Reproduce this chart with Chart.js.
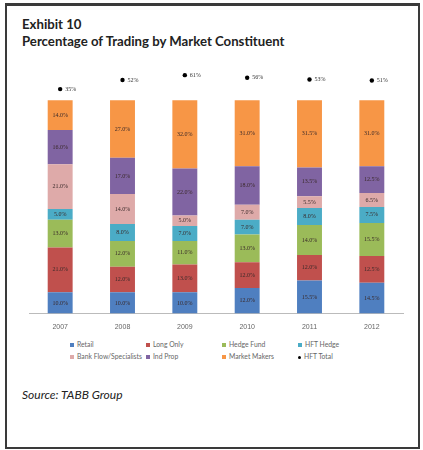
<!DOCTYPE html>
<html>
<head>
<meta charset="utf-8">
<script src="https://cdn.jsdelivr.net/npm/chart.js@4.4.1/dist/chart.umd.min.js"></script>
<style>
  body { margin: 0; background: #fff; font-family: Lato, "Open Sans", sans-serif; }
  #frame { position: absolute; left: 5px; top: 3px; width: 411px; height: 441px;
           border: 2px solid #3a3a3a; border-top-width: 3px; }
  #title { position: absolute; left: 22px; top: 16px; font-weight: bold; font-size: 13.2px;
           line-height: 17px; color: #222; }
  #wrap { position: absolute; left: 0; top: 62px; width: 423px; height: 270px; }
  #legend { position: absolute; left: 0; top: 340px; width: 423px; font-size: 6.8px; color: #666; }
  .item { position: absolute; white-space: nowrap; }
  .item i { display: inline-block; width: 4px; height: 4px; margin-right: 3px; vertical-align: 0; }
  #source { position: absolute; left: 22px; top: 387px; font-style: italic; font-size: 12px; color: #222; }
</style>
</head>
<body>
<div id="frame"></div>
<div id="title">Exhibit 10<br>Percentage of Trading by Market Constituent</div>
<div id="wrap"><canvas id="myGraph"></canvas></div>
<div id="legend"></div>
<div id="source">Source: TABB Group</div>
<script>
// Years on x axis
var years = ['2007', '2008', '2009', '2010', '2011', '2012'];

// Share of trading per constituent (%)
var retail       = [10.0, 10.0, 10.0, 12.0, 15.5, 14.5];
var longOnly     = [21.0, 12.0, 13.0, 12.0, 12.0, 12.5];
var hedgeFund    = [13.0, 12.0, 11.0, 13.0, 14.0, 15.5];
var hftHedge     = [5.0, 8.0, 7.0, 7.0, 8.0, 7.5];
var bankFlow     = [21.0, 14.0, 5.0, 7.0, 5.5, 6.5];
var indProp      = [16.0, 17.0, 22.0, 18.0, 13.5, 12.5];
var marketMakers = [14.0, 27.0, 32.0, 31.0, 31.5, 31.0];

// HFT total (%)
var hftTotal = [35, 52, 61, 56, 53, 51];

// Bar series
var series = [
    { label: 'Retail', data: retail, color: '#4f7fc0' },
    { label: 'Long Only', data: longOnly, color: '#c0504d' },
    { label: 'Hedge Fund', data: hedgeFund, color: '#9bbb59' },
    { label: 'HFT Hedge', data: hftHedge, color: '#4bacc6' },
    { label: 'Bank Flow/Specialists', data: bankFlow, color: '#deaaa9' },
    { label: 'Ind Prop', data: indProp, color: '#8064a2' },
    { label: 'Market Makers', data: marketMakers, color: '#f79646' }
];

var datasets = series.map(function (s) {
    return {
        type: 'bar',
        label: s.label,
        data: s.data,
        backgroundColor: s.color,
        borderWidth: 0,
        categoryPercentage: 1,
        barPercentage: 0.4,
        yAxisID: 'y',
        order: 2
    };
});

// HFT total dots
datasets.push({
    type: 'line',
    label: 'HFT Total',
    data: hftTotal,
    showLine: false,
    pointRadius: 2.2,
    pointBackgroundColor: '#000',
    pointBorderWidth: 0,
    yAxisID: 'y2',
    order: 1
});

// Write values on the bars and next to the dots
var labelPlugin = {
    id: 'labels',
    afterDatasetsDraw: function (chart) {
        var c = chart.ctx;
        c.save();
        c.font = '6px "Liberation Serif", serif';
        c.textBaseline = 'middle';
        chart.data.datasets.forEach(function (ds, d) {
            var meta = chart.getDatasetMeta(d);
            meta.data.forEach(function (el, i) {
                if (ds.type === 'bar') {
                    c.fillStyle = '#3a2a2a';
                    c.textAlign = 'center';
                    c.fillText(ds.data[i].toFixed(1) + '%', el.x, (el.y + el.base) / 2);
                } else {
                    c.fillStyle = '#333';
                    c.textAlign = 'left';
                    c.fillText(ds.data[i] + '%', el.x + 5, el.y);
                }
            });
        });
        c.restore();
    }
};

var ctx = document.getElementById('myGraph').getContext('2d');
var chart = new Chart(ctx, {
    data: { labels: years, datasets: datasets },
    options: {
        responsive: true,
        maintainAspectRatio: false,
        animation: false,
        layout: { padding: { left: 29, right: 20, top: 0, bottom: 0 } },
        plugins: { legend: { display: false }, tooltip: { enabled: false } },
        scales: {
            x: {
                stacked: true,
                grid: { display: false },
                border: { color: '#bbb' },
                ticks: { color: '#666', font: { size: 7, family: 'Liberation Sans' }, padding: 1 }
            },
            y: { stacked: true, display: false, min: 0, max: 116 },
            y2: { display: false, min: -383, max: 78 }
        }
    },
    plugins: [labelPlugin]
});

// Legend in four columns
var legendItems = [
    { label: 'Retail', color: '#4f7fc0' },
    { label: 'Long Only', color: '#c0504d' },
    { label: 'Hedge Fund', color: '#9bbb59' },
    { label: 'HFT Hedge', color: '#4bacc6' },
    { label: 'Bank Flow/Specialists', color: '#deaaa9' },
    { label: 'Ind Prop', color: '#8064a2' },
    { label: 'Market Makers', color: '#f79646' },
    { label: 'HFT Total', color: '#000', dot: true }
];
var cols = [70, 146, 222, 298];
var legend = document.getElementById('legend');
legendItems.forEach(function (it, k) {
    var div = document.createElement('div');
    div.className = 'item';
    div.style.left = cols[k % 4] + 'px';
    div.style.top = (k < 4 ? 0 : 12) + 'px';
    var sw = '<i style="background:' + it.color + (it.dot ? ';border-radius:50%;width:3px;height:3px' : '') + '"></i>';
    div.innerHTML = sw + it.label;
    legend.appendChild(div);
});
</script>
</body>
</html>
